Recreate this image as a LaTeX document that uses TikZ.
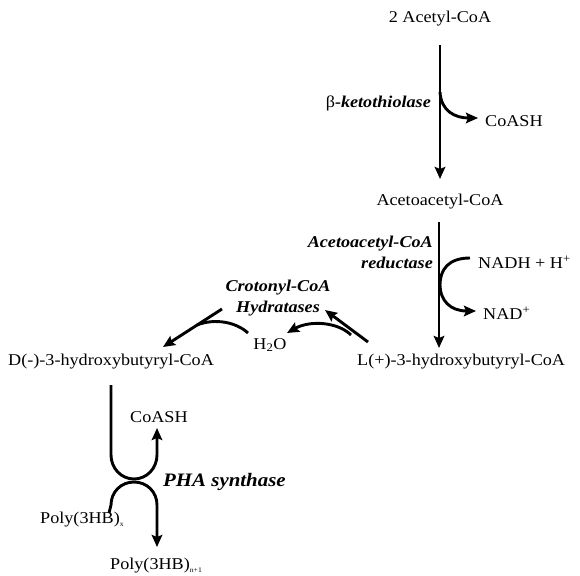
\documentclass[tikz,border=0pt]{standalone}
\usepackage{fontspec}
\setmainfont[FakeStretch=1.1]{Liberation Serif}
\usetikzlibrary{arrows.meta,calc}
\begin{document}
\begin{tikzpicture}[x=1pt,y=-1pt,
  txt/.style={inner sep=0pt,font=\fontsize{16.5}{19}\selectfont},
  enz/.style={inner sep=0pt,font=\fontsize{16.5}{21}\selectfont\bfseries\itshape},
  arr/.style={line width=2.9pt,-{Stealth[length=12pt,width=10.5pt,inset=2pt]}},
  ln/.style={line width=2.9pt}]
\useasboundingbox (0,0) rectangle (580,575);
\node[txt] (a1) at (440,19) {2 Acetyl-CoA};
\node[enz,anchor=east] (thio) at (431,103) {{\mdseries\upshape β}-ketothiolase};
\node[txt,anchor=west] (cs1) at (485,121) {CoASH};
\node[txt] (aa) at (440,202) {Acetoacetyl-CoA};
\node[enz,anchor=east,align=right] (red) at (433,252) {Acetoacetyl-CoA\\reductase};
\node[txt,anchor=west] (nadh) at (478,262) {NADH + H\textsuperscript{+}};
\node[txt,anchor=west] (nad) at (483,313) {NAD\textsuperscript{+}};
\node[txt,anchor=west] (lhb) at (357,362) {L(+)-3-hydroxybutyryl-CoA};
\node[enz,align=center] (hyd) at (278,298) {Crotonyl-CoA\\Hydratases};
\node[txt] (h2o) at (270,345) {H\textsubscript{2}O};
\node[txt,anchor=west] (dhb) at (8,362) {D(-)-3-hydroxybutyryl-CoA};
\node[txt,anchor=west] (cs2) at (130,417) {CoASH};
\node[enz,anchor=west,font=\fontsize{19}{21}\selectfont\bfseries\itshape] (pha) at (163,482) {PHA synthase};
\node[txt,anchor=west] (px) at (40,520) {Poly(3HB)\textsubscript{\scriptsize x}};
\node[txt,anchor=west] (pn) at (110,566) {Poly(3HB)\textsubscript{\scriptsize n+1}};
% step 1
\draw[arr] ($(a1.center)+(0,26)$) -- ($(aa.center)+(0,-23)$);
\draw[arr] ($(a1.center)+(0,73)$) .. controls ($(a1.center)+(1,92)$) and ($(a1.center)+(15,99)$) .. ($(cs1.west)+(-7,-3)$);
% step 2
\draw[arr] ($(aa.center)+(-1,20)$) -- ($(aa.center |- lhb.center)+(-1,-14)$);
\draw[arr] ($(nadh.west)+(-8,-4)$) .. controls (448,258) and (440,270) .. (440,285)
  .. controls (440,300) and (450,311) .. ($(nad.west)+(-7,-2)$);
% step 3
\draw[arr] ($(lhb.west)+(11,-20)$) -- ($(hyd.center)+(47,12)$);
\draw[arr] (351,335) .. controls (338,322) and (310,320) .. ($(h2o.center)+(17,-12)$);
\draw[arr] ($(hyd.center)+(-56,11)$) -- ($(dhb.west)+(155,-15)$);
\draw[ln] ($(h2o.center)+(-22,-12)$) .. controls (236,322) and (215,318) .. (197,325);
% step 4
\draw[arr] ($(dhb.west)+(103,23)$) -- (111,455) .. controls (111,468) and (121,479) .. (134,479)
  .. controls (147,479) and (157,468) .. (157,455) -- ($(cs2.west)+(27,11)$);
\draw[arr] ($(px.west)+(69,-7)$) -- (111,505) .. controls (111,492) and (121,482) .. (134,482)
  .. controls (147,482) and (157,492) .. (157,505) -- ($(pn.west)+(47,-19)$);
\end{tikzpicture}
\end{document}
